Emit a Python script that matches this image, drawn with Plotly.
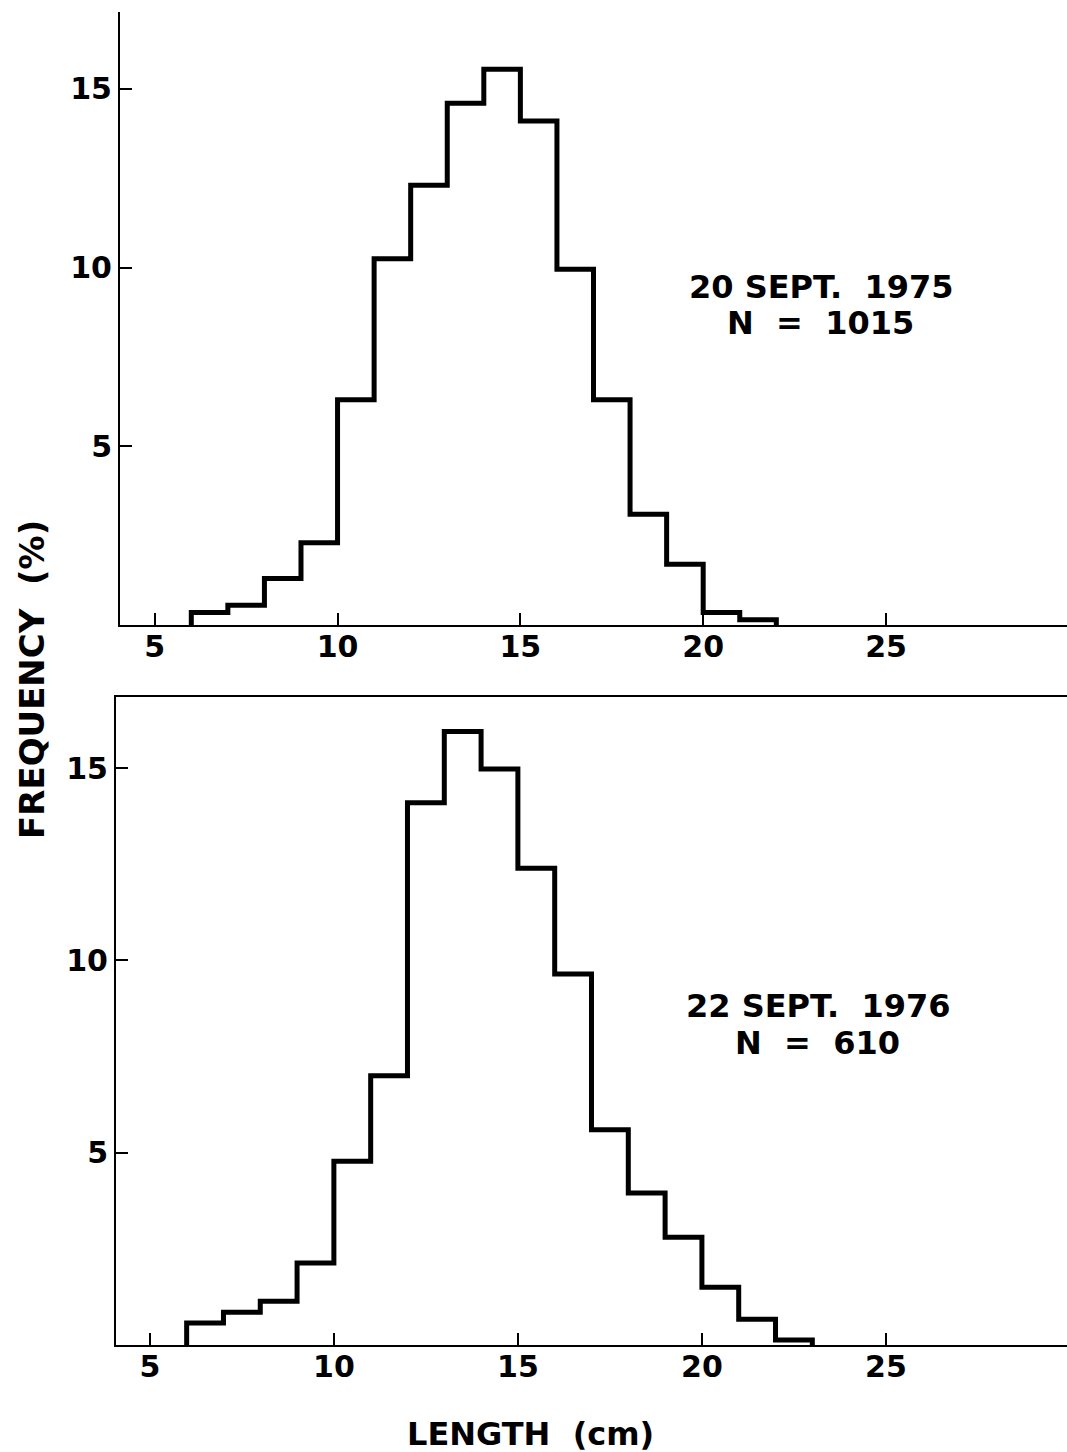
import plotly.graph_objects as go

# ---- data ----
bins_1975 = [6, 7, 8, 9, 10, 11, 12, 13, 14, 15, 16, 17, 18, 19, 20, 21, 22]  # bin edges (cm)
freq_1975 = [0.35, 0.55, 1.3, 2.3, 6.3, 10.25, 12.3, 14.6, 15.55, 14.1, 9.95, 6.3, 3.1, 1.7, 0.35, 0.15]

bins_1976 = [6, 7, 8, 9, 10, 11, 12, 13, 14, 15, 16, 17, 18, 19, 20, 21, 22, 23]
freq_1976 = [0.57, 0.85, 1.14, 2.13, 4.78, 7.0, 14.1, 15.95, 14.98, 12.4, 9.65, 5.6, 3.95, 2.8, 1.5, 0.67, 0.13]

x_ticks = [5, 10, 15, 20, 25]
y_ticks = [5, 10, 15]

label_1975 = ["20 SEPT.\u00a0 1975", "N\u00a0 =\u00a0 1015"]
label_1976 = ["22 SEPT.\u00a0 1976", "N\u00a0 =\u00a0 610"]

W, H = 1067, 1452
FONT = "DejaVu Sans"


def step_xy(edges, vals):
    xs = [edges[0]] + list(edges[:-1]) + [edges[-1]]
    ys = [0] + list(vals) + [0]
    return xs, ys


def fx(px):
    return px / W


def fy(py):
    return 1 - py / H


fig = go.Figure()
x1, y1 = step_xy(bins_1975, freq_1975)
x2, y2 = step_xy(bins_1976, freq_1976)
fig.add_trace(go.Scatter(x=x1, y=y1, mode="lines", line=dict(shape="hv", color="black", width=5),
                         xaxis="x", yaxis="y", showlegend=False, hoverinfo="skip"))
fig.add_trace(go.Scatter(x=x2, y=y2, mode="lines", line=dict(shape="hv", color="black", width=5),
                         xaxis="x2", yaxis="y2", showlegend=False, hoverinfo="skip"))

tickfont = dict(family=FONT, size=30, color="black", weight="bold")
axis_common = dict(showgrid=False, zeroline=False, showline=True, linecolor="black", linewidth=2,
                   ticks="inside", ticklen=12, tickwidth=2, tickcolor="black", tickfont=tickfont)

fig.update_layout(
    width=W, height=H,
    margin=dict(l=0, r=0, t=0, b=0),
    paper_bgcolor="white", plot_bgcolor="white",
    showlegend=False,
    xaxis=dict(domain=[fx(120), 1.0], range=[4.05, 29.95], tickvals=x_ticks, anchor="y",
               ticklabelstandoff=-6, **axis_common),
    yaxis=dict(domain=[fy(625), fy(12)], range=[0, 17.15], tickvals=y_ticks, anchor="x",
               **axis_common),
    xaxis2=dict(domain=[fx(116), 1.0], range=[4.08, 29.92], tickvals=x_ticks, anchor="y2", mirror=True,
                ticklabelstandoff=-6, **axis_common),
    yaxis2=dict(domain=[fy(1345), fy(697)], range=[0, 16.85], tickvals=y_ticks, anchor="x2",
                **axis_common),
)

annots = [
    (label_1975[0], 821, 287),
    (label_1975[1], 820, 323),
    (label_1976[0], 818, 1006),
    (label_1976[1], 817, 1043),
]
for txt, px, py in annots:
    fig.add_annotation(text=txt, x=fx(px), y=fy(py), xref="paper", yref="paper", showarrow=False,
                       xanchor="center", yanchor="middle",
                       font=dict(family=FONT, size=32, color="black", weight="bold"))

fig.add_annotation(text="LENGTH\u00a0 (cm)", x=fx(530), y=fy(1434), xref="paper", yref="paper",
                   showarrow=False, xanchor="center", yanchor="middle",
                   font=dict(family=FONT, size=32, color="black", weight="bold"))
fig.add_annotation(text="FREQUENCY\u00a0 (%)", x=fx(32), y=fy(680), xref="paper", yref="paper",
                   showarrow=False, xanchor="center", yanchor="middle", textangle=-90,
                   font=dict(family=FONT, size=34, color="black", weight="bold"))

fig.write_html("out.html")
